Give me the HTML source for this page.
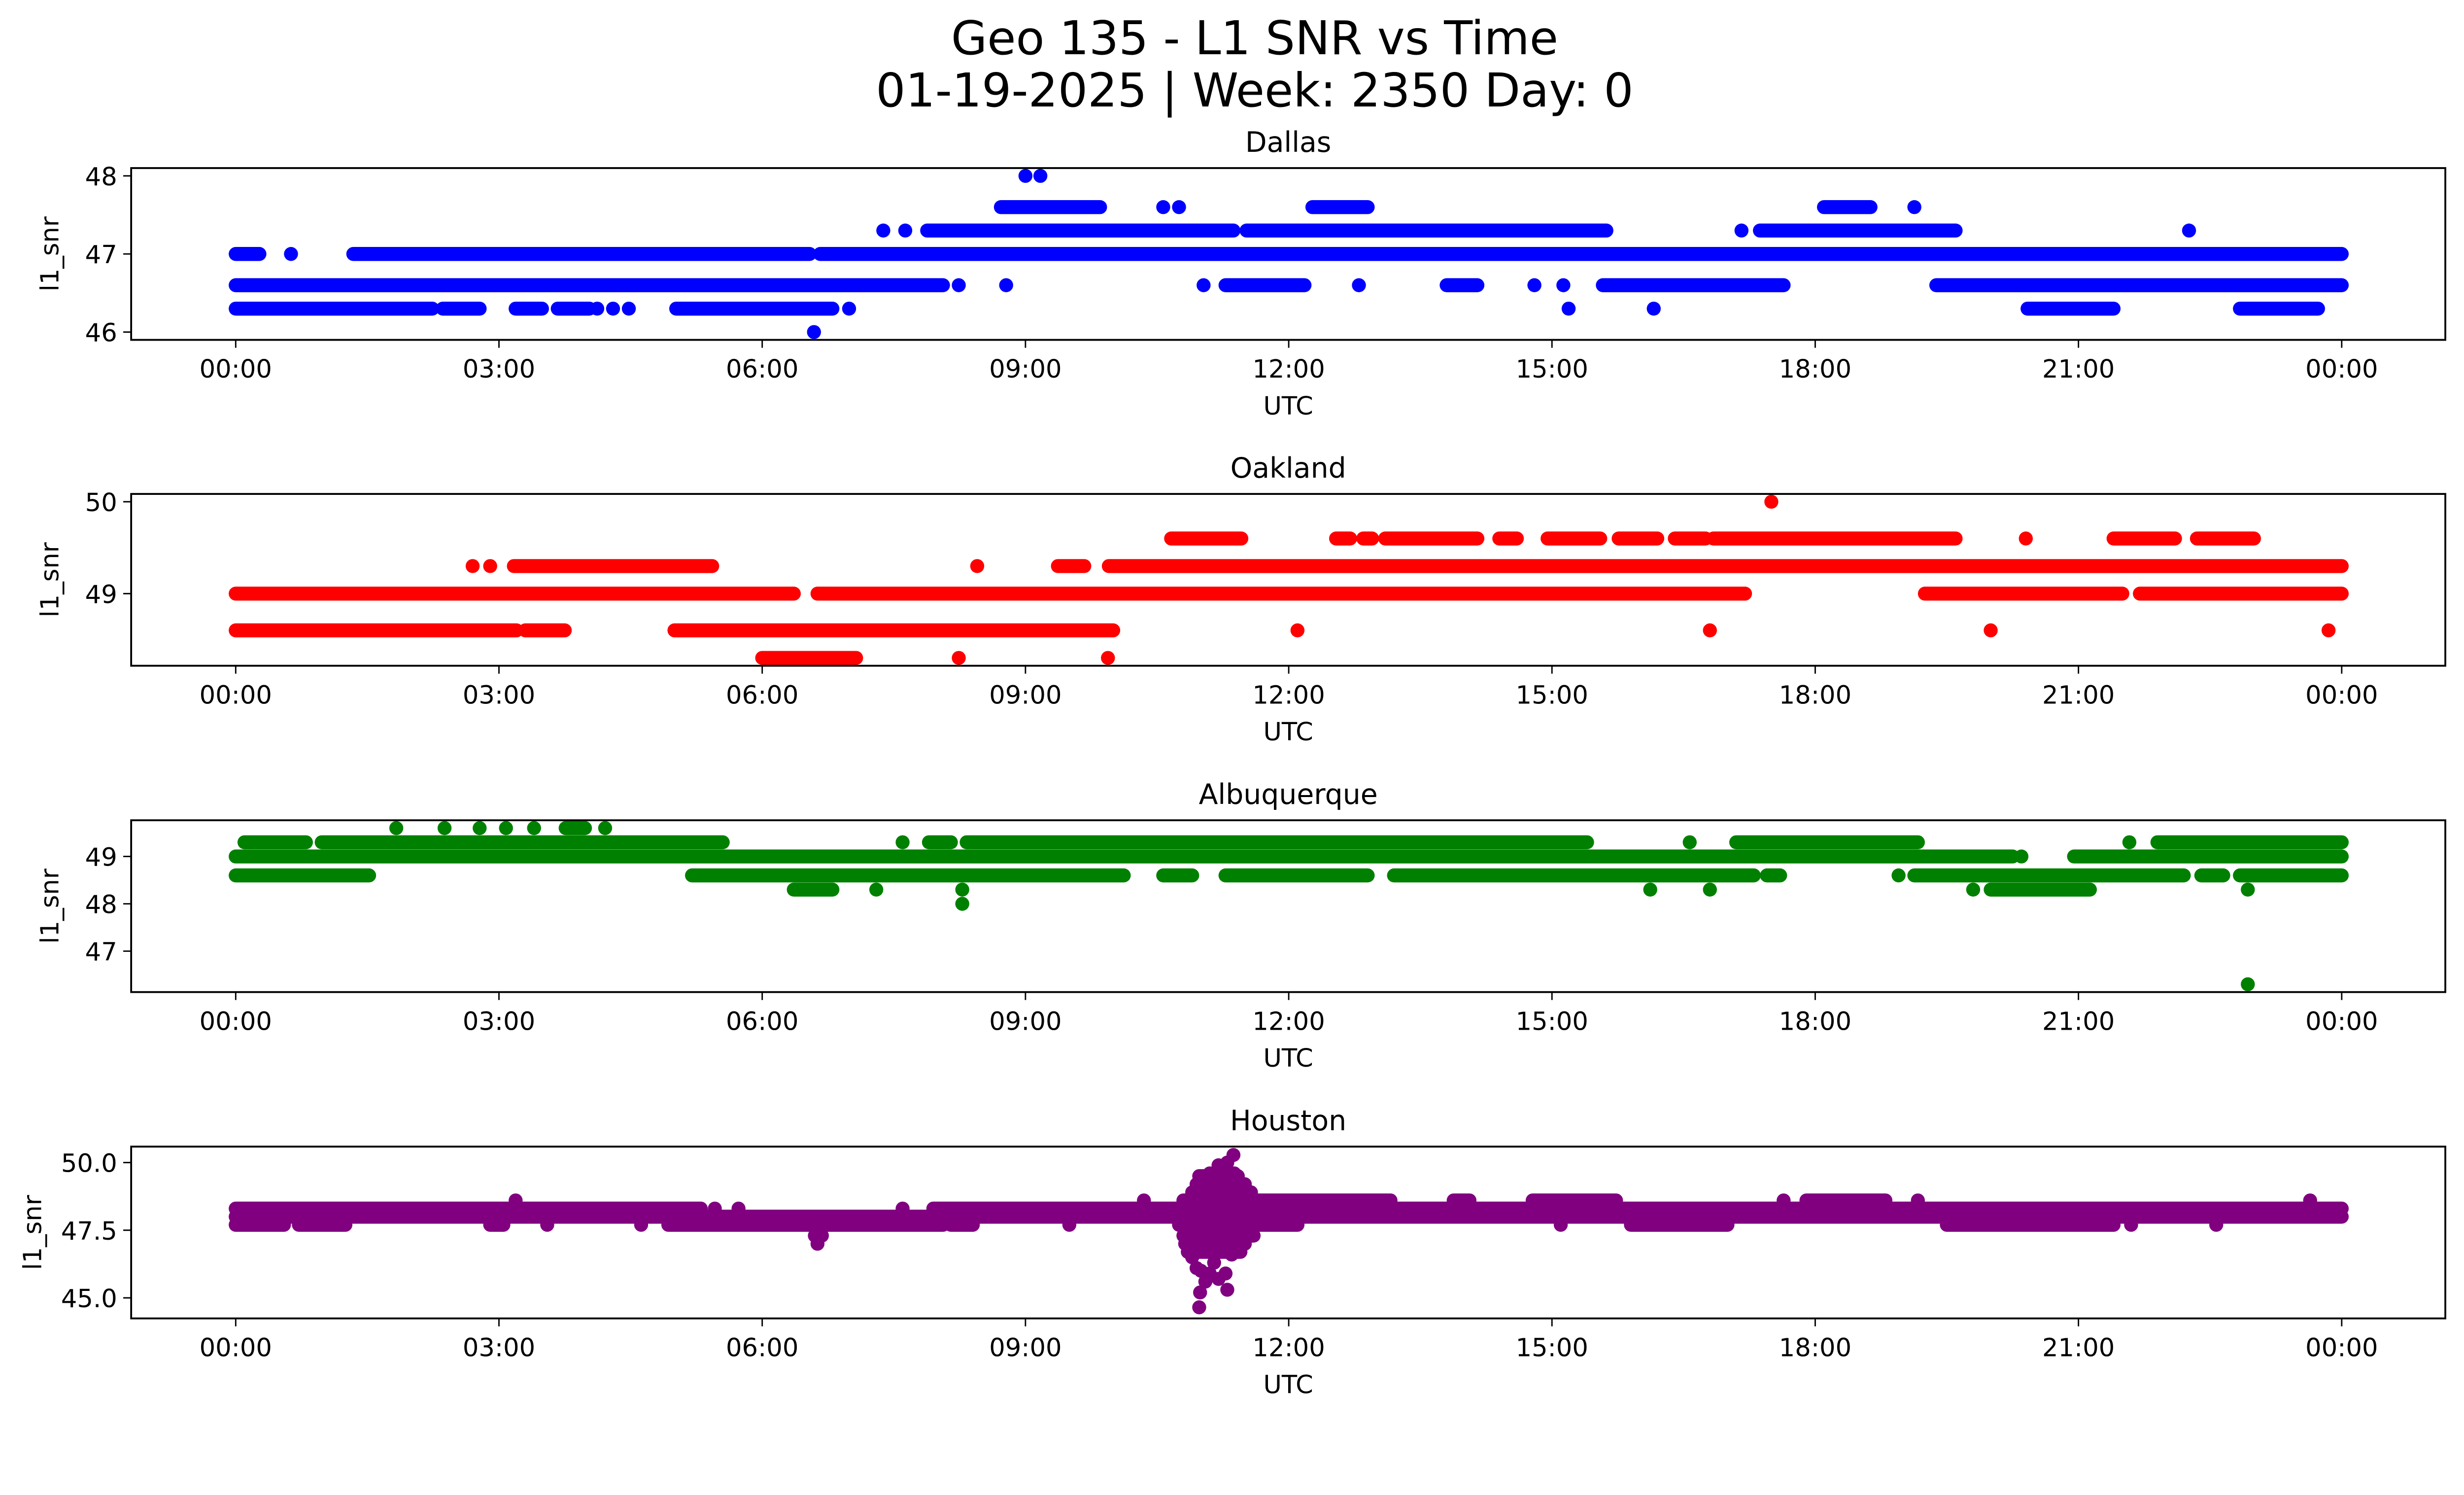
<!DOCTYPE html>
<html><head><meta charset="utf-8"><title>Geo 135 - L1 SNR vs Time</title>
<style>html,body{margin:0;padding:0;background:#fff;width:100%;height:100%;overflow:hidden}svg{display:block;position:absolute;left:0;top:0;width:100vw;height:100vh}text{font-family:"DejaVu Sans","Liberation Sans",sans-serif;fill:#000}</style>
</head><body>
<svg id="fig" xmlns="http://www.w3.org/2000/svg" viewBox="0 0 5279 3033" preserveAspectRatio="xMinYMin meet">
<rect x="0" y="0" width="5279" height="3033" fill="#fff"/>
<text x="2688" y="116" font-size="100" text-anchor="middle">Geo 135 - L1 SNR vs Time</text>
<text x="2688" y="228" font-size="100" text-anchor="middle">01-19-2025 | Week: 2350 Day: 0</text>
<g id="plots"></g>
</svg>
<script>
// ---- data: segments [startHour, endHour, snr] ----
const xTickLabels = ["00:00","03:00","06:00","09:00","12:00","15:00","18:00","21:00","00:00"];
const xTickHours = [0,3,6,9,12,15,18,21,24];
const panelNames = ["Dallas","Oakland","Albuquerque","Houston"];
const panelColors = ["#0000ff","#ff0000","#008000","#800080"];
const yMins = [45.9, 48.215, 46.135, 44.24];
const yMaxs = [48.1, 50.085, 49.765, 50.59];
const dallasTicks = [46,47,48];
const oaklandTicks = [49,50];
const albuquerqueTicks = [47,48,49];
const houstonTicks = [45.0,47.5,50.0];
const houstonTickLabels = ["45.0","47.5","50.0"];

const dallasSegments = [
[9.0,9.0,48.0],[9.17,9.17,48.0],
[8.72,9.85,47.6],[10.57,10.57,47.6],[10.75,10.75,47.6],[12.27,12.9,47.6],[18.1,18.63,47.6],[19.13,19.13,47.6],
[7.38,7.38,47.3],[7.63,7.63,47.3],[7.88,11.37,47.3],[11.52,15.62,47.3],[17.16,17.16,47.3],[17.37,19.6,47.3],[22.26,22.26,47.3],
[0,0.27,47.0],[0.63,0.63,47.0],[1.34,6.54,47.0],[6.66,24,47.0],
[0,8.06,46.6],[8.24,8.24,46.6],[8.78,8.78,46.6],[11.03,11.03,46.6],[11.28,12.18,46.6],[12.8,12.8,46.6],[13.8,14.15,46.6],[14.8,14.8,46.6],[15.13,15.13,46.6],[15.58,17.64,46.6],[19.38,24,46.6],
[0,2.24,46.3],[2.36,2.78,46.3],[3.19,3.49,46.3],[3.67,4.03,46.3],[4.12,4.12,46.3],[4.3,4.3,46.3],[4.48,4.48,46.3],[5.02,6.8,46.3],[6.99,6.99,46.3],[15.19,15.19,46.3],[16.16,16.16,46.3],[20.42,21.4,46.3],[22.84,23.73,46.3],
[6.59,6.59,46.0]
];
const oaklandSegments = [
[17.5,17.5,50.0],
[10.66,11.46,49.6],[12.54,12.7,49.6],[12.85,12.95,49.6],[13.1,14.15,49.6],[14.4,14.6,49.6],[14.95,15.55,49.6],[15.76,16.2,49.6],[16.4,16.75,49.6],[16.84,19.6,49.6],[20.4,20.4,49.6],[21.4,22.1,49.6],[22.35,23.0,49.6],
[2.7,2.7,49.3],[2.9,2.9,49.3],[3.17,5.43,49.3],[8.45,8.45,49.3],[9.37,9.67,49.3],[9.95,24,49.3],
[0,6.36,49.0],[6.63,17.2,49.0],[19.25,21.5,49.0],[21.7,24,49.0],
[0,3.2,48.6],[3.3,3.75,48.6],[5.0,10.0,48.6],[12.1,12.1,48.6],[16.8,16.8,48.6],[20.0,20.0,48.6],[23.85,23.85,48.6],
[6.0,7.07,48.3],[8.24,8.24,48.3],[9.94,9.94,48.3]
];
const albuquerqueSegments = [
[1.83,1.83,49.6],[2.38,2.38,49.6],[2.78,2.78,49.6],[3.08,3.08,49.6],[3.4,3.4,49.6],[3.76,3.98,49.6],[4.21,4.21,49.6],
[0.1,0.8,49.3],[0.98,5.55,49.3],[7.6,7.6,49.3],[7.9,8.15,49.3],[8.33,15.4,49.3],[16.57,16.57,49.3],[17.1,19.17,49.3],[21.58,21.58,49.3],[21.9,24,49.3],
[0,20.25,49.0],[20.35,20.35,49.0],[20.95,24,49.0],
[0,1.52,48.6],[5.2,10.12,48.6],[10.57,10.9,48.6],[11.28,12.9,48.6],[13.2,17.3,48.6],[17.45,17.6,48.6],[18.95,18.95,48.6],[19.13,22.2,48.6],[22.4,22.65,48.6],[22.84,24,48.6],
[6.36,6.8,48.3],[7.3,7.3,48.3],[8.28,8.28,48.3],[16.12,16.12,48.3],[16.8,16.8,48.3],[19.8,19.8,48.3],[20.0,21.13,48.3],[22.93,22.93,48.3],
[8.28,8.28,48.0],
[22.93,22.93,46.3]
];
const houstonSegments = [
[3.19,3.19,48.6],[10.35,10.35,48.6],[10.8,11.6,48.6],[11.64,13.16,48.6],[13.88,14.06,48.6],[14.78,15.73,48.6],[17.64,17.64,48.6],[17.9,18.8,48.6],[19.17,19.17,48.6],[23.64,23.64,48.6],
[0,5.3,48.3],[5.46,5.46,48.3],[5.73,5.73,48.3],[7.6,7.6,48.3],[7.95,24,48.3],
[0,24,48.0],
[0,0.55,47.7],[0.72,1.25,47.7],[2.9,3.05,47.7],[3.55,3.55,47.7],[4.62,4.62,47.7],[4.93,8.06,47.7],[8.15,8.4,47.7],[9.5,9.5,47.7],[10.75,12.1,47.7],[15.1,15.1,47.7],[15.9,17.0,47.7],[19.5,21.4,47.7],[21.6,21.6,47.7],[22.57,22.57,47.7],
[6.6,6.68,47.3],[6.63,6.63,47.0],
[10.8,11.6,47.3],[10.82,11.5,47.0],[10.85,11.45,46.7],[10.9,11.55,48.9],[10.95,11.5,49.2],[10.98,11.42,49.5]
];
const houstonSpikeHours = [11.37,11.2,11.3,11.1,11.25,11.38,11.43,11.57,11.05,10.95,10.9,11.35,10.95,11.15,11.05,11.3,11.1,11.2,10.99,10.98,11.28,11.0];
const houstonSpikeValues = [50.28,49.9,50.0,49.6,49.6,49.6,49.2,48.9,49.0,48.7,46.5,46.6,46.1,46.3,45.6,45.3,45.9,45.7,45.2,44.65,45.9,46.0];

const allSegments = [dallasSegments, oaklandSegments, albuquerqueSegments, houstonSegments];
const allTicks = [dallasTicks, oaklandTicks, albuquerqueTicks, houstonTicks];
const allTickLabels = [dallasTicks.map(String), oaklandTicks.map(String), albuquerqueTicks.map(String), houstonTickLabels];

// ---- layout ----
const NS = "http://www.w3.org/2000/svg";
const AX_L = 281, AX_R = 5239, AX_H = 368;
const panelTops = [360, 1058, 1757, 2456];
const X0 = 505, XH = 188; // px at hour 0, px per hour
const R = 15;
function xScale(h){ return X0 + h*XH; }
function makeY(i){ return v => panelTops[i] + (yMaxs[i]-v)/(yMaxs[i]-yMins[i])*AX_H; }
function mk(tag, attrs, parent){ const e=document.createElementNS(NS,tag); for(const k in attrs) e.setAttribute(k,attrs[k]); parent.appendChild(e); return e; }

const root = document.getElementById('plots');
for (let i=0;i<4;i++){
  const y = makeY(i);
  const top = panelTops[i], bot = top+AX_H;
  const slug = panelNames[i].toLowerCase();
  const g = mk('g',{},root);
  
  
  const clipId = 'clip'+i;
  const cp = mk('clipPath',{id:clipId},g);
  mk('rect',{x:AX_L,y:top,width:AX_R-AX_L,height:AX_H},cp);
  const t = mk('text',{x:(AX_L+AX_R)/2,y:top-35,'font-size':60,'text-anchor':'middle'},g);
  t.textContent = panelNames[i];
  
  
  const sg = mk('g',{'clip-path':'url(#'+clipId+')',stroke:panelColors[i],fill:panelColors[i],'stroke-linecap':'round','stroke-width':2*R},g);
  
  
  allSegments[i].forEach(s=>{
    const ln = mk('line',{x1:xScale(s[0]),x2:xScale(s[1]),y1:y(s[2]),y2:y(s[2])},sg);
    
    
  });
  if (i===3){
    houstonSpikeHours.forEach((h,k)=>{
      const c = mk('circle',{cx:xScale(h),cy:y(houstonSpikeValues[k]),r:R,stroke:'none'},sg);
      
      
    });
  }
  const fr = mk('rect',{x:AX_L,y:top,width:AX_R-AX_L,height:AX_H,fill:'none',stroke:'#000','stroke-width':4},g);
  
  
  xTickHours.forEach((h,k)=>{
    const tk = mk('line',{x1:xScale(h),x2:xScale(h),y1:bot,y2:bot+17,stroke:'#000','stroke-width':3},g);
    
    
    const tl = mk('text',{x:xScale(h),y:bot+81,'font-size':54,'text-anchor':'middle'},g);
    tl.textContent = xTickLabels[k];
    
    
  });
  const xl = mk('text',{x:(AX_L+AX_R)/2,y:bot+160,'font-size':54,'text-anchor':'middle'},g);
  xl.textContent = 'UTC';
  
  
  allTicks[i].forEach((v,k)=>{
    const tk = mk('line',{x1:AX_L-17,x2:AX_L,y1:y(v),y2:y(v),stroke:'#000','stroke-width':3},g);
    
    
    const tl = mk('text',{x:AX_L-30,y:y(v)+20,'font-size':54,'text-anchor':'end'},g);
    tl.textContent = allTickLabels[i][k];
    
    
  });
  const yl = mk('text',{x:0,y:0,'font-size':54,'text-anchor':'middle',transform:'translate('+(i===3?'88':'125')+','+(top+AX_H/2)+') rotate(-90)'},g);
  yl.textContent = 'l1_snr';
  
  
}
</script>
</body></html>
